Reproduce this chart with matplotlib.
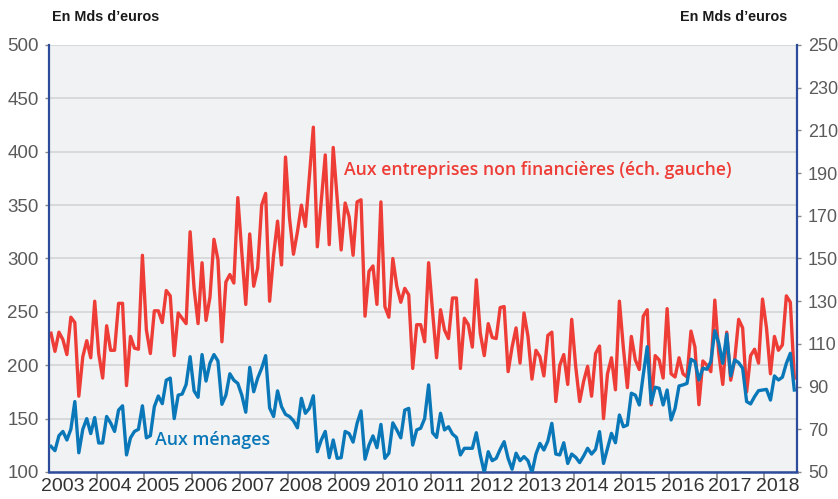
import matplotlib
matplotlib.use("Agg")
import matplotlib.pyplot as plt
import numpy as np
import pandas as pd

# Monthly data, January 2003 - August 2018
months = pd.date_range("2003-01-01", periods=188, freq="MS")

# Crédits aux entreprises non financières (left axis, Mds €)
entreprises = [
    230, 213, 231, 224, 210, 245, 240, 171, 208, 223, 207, 260,
    211, 188, 237, 214, 214, 258, 258, 181, 227, 216, 215, 303,
    233, 211, 251, 251, 240, 270, 265, 209,
    249, 244, 239, 325, 272, 239, 296, 242, 264, 318, 299, 222, 278, 285, 277,
    357, 306, 257, 323, 274, 291, 350, 361, 260, 303, 335, 294, 395, 338, 304, 325,
    350, 330, 376, 423, 311, 354, 397, 313, 404, 356, 308, 352, 339, 303, 353,
    355, 246, 288, 293, 257, 353, 255, 245, 300, 274, 259, 272, 266, 197, 238,
    238, 222,
    296, 250, 207, 252, 233, 225, 263, 263, 197, 244, 238, 217, 280, 230, 209,
    239, 226, 225, 254, 255, 194, 217, 235, 202, 249, 227, 187, 214, 208, 190, 228,
    231, 166, 200, 210, 182, 243, 199, 166, 185, 199, 171, 211, 218, 150, 192,
    207, 177, 260, 216, 179, 227, 205, 196, 246, 252, 163, 209, 205, 188, 253,
    192, 189,
    207, 192, 189, 232, 217, 163, 204, 200, 194, 261, 211, 182, 231, 186, 205,
    243, 235, 175, 209, 215, 202, 262, 235, 192, 227, 214, 219, 265, 259, 188,
]

# Crédits aux ménages (right axis, Mds €)
menages = [
    62, 60, 67, 69, 65, 70, 83, 59, 70, 75, 68, 75.5,
    63.6, 63.6, 76, 73, 69, 79, 81, 58, 66, 69, 70, 81,
    66, 67, 80.6, 85.6, 82, 93, 94, 75,
    86, 86.5, 91, 104, 88, 85, 105, 92.6, 101, 105, 102, 81.7, 86, 96, 93,
    91.5, 86, 78, 99, 87.6, 94, 98.6, 104.5, 80, 76, 88, 80.6, 77, 76, 74, 70.7,
    84.5, 77.5, 79.8, 85.7, 59.5, 65, 69, 56.7, 65, 56.4, 56.7, 69, 68, 64, 72.8,
    78.6, 56, 62.6, 66.9, 61.4, 72.3, 56.4, 58.8, 73, 69.7, 66, 79, 79.8, 62.6,
    69.7, 70.5, 75,
    90.8, 68.4, 66.2, 77.5, 69.7, 71.2, 67.8, 66.2, 58, 61.1, 61.1, 61.1, 68.4,
    58, 49.7, 59.5, 55.3, 56.4, 60.6, 64.2, 56.4, 51.3, 58.8, 55.3, 57.2, 55.3,
    49.7, 58.4, 63.4, 60.3, 64.5,
    72.8, 58.4, 58, 63.7, 54, 58.4, 56.9, 54.4, 57.5, 61.1, 58.4, 60.6, 68.9,
    54, 61.1, 68.1, 63.7, 76.7, 71.2, 72, 86.9, 86, 81.4, 95.5, 108.7, 82.2,
    89.7, 89.2, 81.4, 88.4, 74.4, 79.8,
    90.3, 90.8, 91.5, 102.8, 101.7, 93.1, 98.6, 98.1, 101.7, 116.2, 110.3,
    100.9, 114.6, 95, 102.5, 101.2, 98.6, 83, 81.9, 85.3, 88.1, 88.4, 88.7,
    83.7, 95, 93.1, 94.4, 100.9, 105.6, 88.4,
]

years = list(range(2003, 2019))
left_ticks = list(range(100, 501, 50))
right_ticks = list(range(50, 251, 20))

RED = "#EE3D36"
BLUE = "#0A78B8"
SPINE = "#2D4D9C"
TICKC = "#5A5A5A"
NUMFONT = ["Liberation Sans", "DejaVu Sans"]
LBLFONT = ["Open Sans", "DejaVu Sans"]

x = np.array([d.year + (d.month - 0.5) / 12 for d in months])

W, H = 838, 499
fig = plt.figure(figsize=(W / 100, H / 100), dpi=100)
ax = fig.add_axes([49 / W, 27 / H, 748 / W, 427 / H])
ax.set_facecolor("#F1F2F4")
ax.set_xlim(2003, 2003 + 748 / 47.7)
ax.set_ylim(100, 500)

ax.set_yticks(left_ticks)
ax.grid(axis="y", color="#D8D9DB", lw=1.4)
ax.set_axisbelow(True)

ax.plot(x, entreprises, color=RED, lw=2.4, solid_joinstyle="round")

ax2 = ax.twinx()
ax2.set_ylim(50, 250)
ax2.set_yticks(right_ticks)
ax2.plot(x, menages, color=BLUE, lw=2.4, solid_joinstyle="round")

for s in ["top", "right"]:
    ax.spines[s].set_visible(False)
for s in ["top", "left", "bottom"]:
    ax2.spines[s].set_visible(False)
ax.spines["left"].set_color(SPINE)
ax.spines["left"].set_linewidth(1.6)
ax.spines["bottom"].set_color(SPINE)
ax.spines["bottom"].set_linewidth(1.8)
ax2.spines["right"].set_color(SPINE)
ax2.spines["right"].set_linewidth(1.6)

ax.tick_params(axis="y", length=3, width=1, color="#8A8A8A", labelcolor=TICKC,
               labelsize=13.5, pad=4.5)
ax2.tick_params(axis="y", length=3, width=1, color="#8A8A8A", labelcolor=TICKC,
                labelsize=13, pad=5)
for lab in ax.get_yticklabels() + ax2.get_yticklabels():
    lab.set_family(NUMFONT)

ax.set_xticks(years[1:])
ax.set_xticklabels([])
ax.tick_params(axis="x", which="major", length=6, width=1.2, color="#8A8A8A")
ax.set_xticks([y + 0.28 for y in years], minor=True)
ax.set_xticklabels([str(y) for y in years], minor=True)
ax.tick_params(axis="x", which="minor", length=0, labelcolor="#333333",
               labelsize=14, pad=4)
for lab in ax.get_xticklabels(minor=True):
    lab.set_family(NUMFONT)

fig.text(52 / W, 1 - 17 / H, "En Mds d\u2019euros", ha="left", va="center",
         fontsize=10.4, fontweight="bold", color="#1A1A1A", family=NUMFONT)
fig.text(787 / W, 1 - 17 / H, "En Mds d\u2019euros", ha="right", va="center",
         fontsize=10.4, fontweight="bold", color="#1A1A1A", family=NUMFONT)

fig.text(344 / W, 1 - 170 / H, "Aux entreprises non financi\u00e8res (\u00e9ch. gauche)",
         ha="left", va="center", fontsize=12.7, fontweight="semibold", color=RED,
         family=LBLFONT)
fig.text(155 / W, 1 - 440 / H, "Aux m\u00e9nages", ha="left", va="center",
         fontsize=12.8, fontweight="semibold", color=BLUE, family=LBLFONT)

fig.savefig("out.png", dpi=100)
